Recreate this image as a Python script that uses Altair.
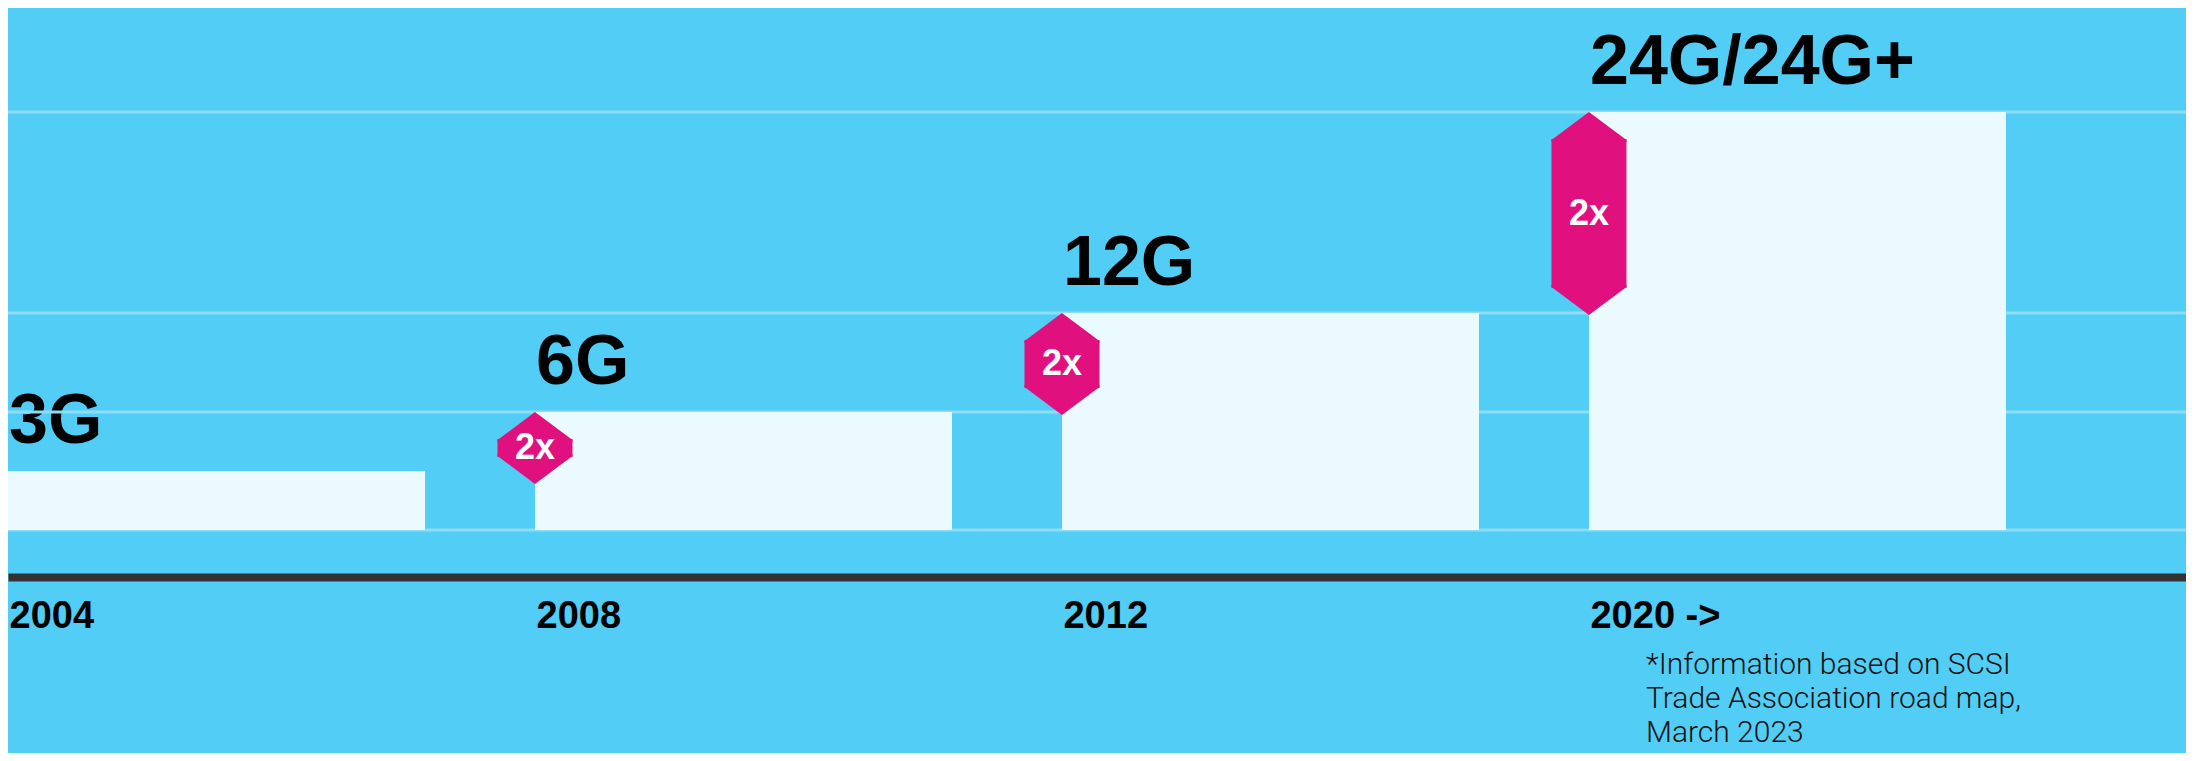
import altair as alt
import pandas as pd

# ---- data ----
years = ["2004", "2008", "2012", "2020 ->"]
generations = ["3G", "6G", "12G", "24G/24G+"]
bar_height = [59, 118, 217, 418]          # relative bar heights (arbitrary units)
grid_levels = [0, 118, 217, 418]
badge_years = ["2008", "2012", "2020 ->"]
badge_top = [118, 217, 418]
badge_bottom = [46, 115, 215]
badge_text = ["2x", "2x", "2x"]
footnote_lines = ["*Information based on SCSI", "Trade Association road map,", "March 2023"]

# ---- styles ----
BG = "#52CDF5"
BAR = "#EAFAFF"
GRID = "#8EDDF7"
MAGENTA = "#E1107F"
AXIS = "#333333"
FONT = "Liberation Sans"

bars = pd.DataFrame({"year": years, "gen": generations, "value": bar_height})
grid = pd.DataFrame({"level": grid_levels})
badges = pd.DataFrame({"year": badge_years, "top": badge_top,
                       "bottom": badge_bottom, "text": badge_text})
badges["mid"] = (badges["top"] + badges["bottom"]) / 2
notes = pd.DataFrame({"year": [years[-1]], "note": ["\n".join(footnote_lines)]})

x_scale = alt.Scale(domain=years, paddingInner=0.2087, paddingOuter=0.1708, align=0)
y_scale = alt.Scale(domain=[0, 522])

x_axis = alt.Axis(title=None, orient="bottom", offset=47, domainColor=AXIS,
                  domainWidth=8, ticks=False, tickSize=0, labelPadding=50,
                  labelBaseline="alphabetic", labelAlign="left", labelFont=FONT,
                  labelFontSize=38, labelFontWeight="bold", labelColor="#000000",
                  labelOffset=-207, grid=False, labelAngle=0)


def X(bp=None):
    if bp is None:
        return alt.X("year:N", scale=x_scale, axis=x_axis)
    return alt.X("year:N", scale=x_scale, axis=x_axis, bandPosition=bp)


def Y(field):
    return alt.Y(field, scale=y_scale, axis=None)


labels = alt.Chart(bars).mark_text(
    align="left", baseline="alphabetic", dy=-28, dx=1, fontSize=70,
    fontWeight="bold", font=FONT, color="#000000"
).encode(x=X(0), y=Y("value:Q"), text="gen:N")

gridlines = alt.Chart(grid).mark_rule(color=GRID, strokeWidth=3).encode(
    y=Y("level:Q"))

barmarks = alt.Chart(bars).mark_bar(color=BAR, opacity=1).encode(
    x=X(), y=Y("value:Q"))

TOP_CAP = "M 0 0 L 1 0.747 L 1 0.8 L -1 0.8 L -1 0.747 Z"
BOTTOM_CAP = "M 0 0 L 1 -0.747 L 1 -0.8 L -1 -0.8 L -1 -0.747 Z"

badge_body = alt.Chart(badges).mark_rule(
    color=MAGENTA, strokeWidth=75, strokeCap="butt", yOffset=27, y2Offset=-27
).encode(x=X(0), y=Y("top:Q"), y2="bottom:Q")

badge_top_cap = alt.Chart(badges).mark_point(
    shape=TOP_CAP, size=5625, filled=True, color=MAGENTA, opacity=1, strokeWidth=0
).encode(x=X(0), y=Y("top:Q"))

badge_bottom_cap = alt.Chart(badges).mark_point(
    shape=BOTTOM_CAP, size=5625, filled=True, color=MAGENTA, opacity=1, strokeWidth=0
).encode(x=X(0), y=Y("bottom:Q"))

badge_label = alt.Chart(badges).mark_text(
    color="white", fontSize=36, fontWeight="bold", font=FONT,
    align="center", baseline="middle"
).encode(x=X(0), y=Y("mid:Q"), text="text:N")

note = alt.Chart(notes).mark_text(
    align="left", baseline="alphabetic", font="Roboto", fontWeight=300,
    fontSize=30, lineHeight=34, lineBreak="\n", color="#111111", dx=57
).encode(x=X(0), y=alt.value(666), text="note:N")

chart = alt.layer(
    labels, gridlines, barmarks, badge_body, badge_top_cap, badge_bottom_cap,
    badge_label, note
).properties(
    width=2178, height=522,
    autosize=alt.AutoSizeParams(type="none"),
    padding={"left": 0, "top": 0, "right": 0, "bottom": 223},
    background=BG,
).configure_view(stroke=None)

chart.save("out.html", embed_options={"renderer": "svg", "actions": False})
